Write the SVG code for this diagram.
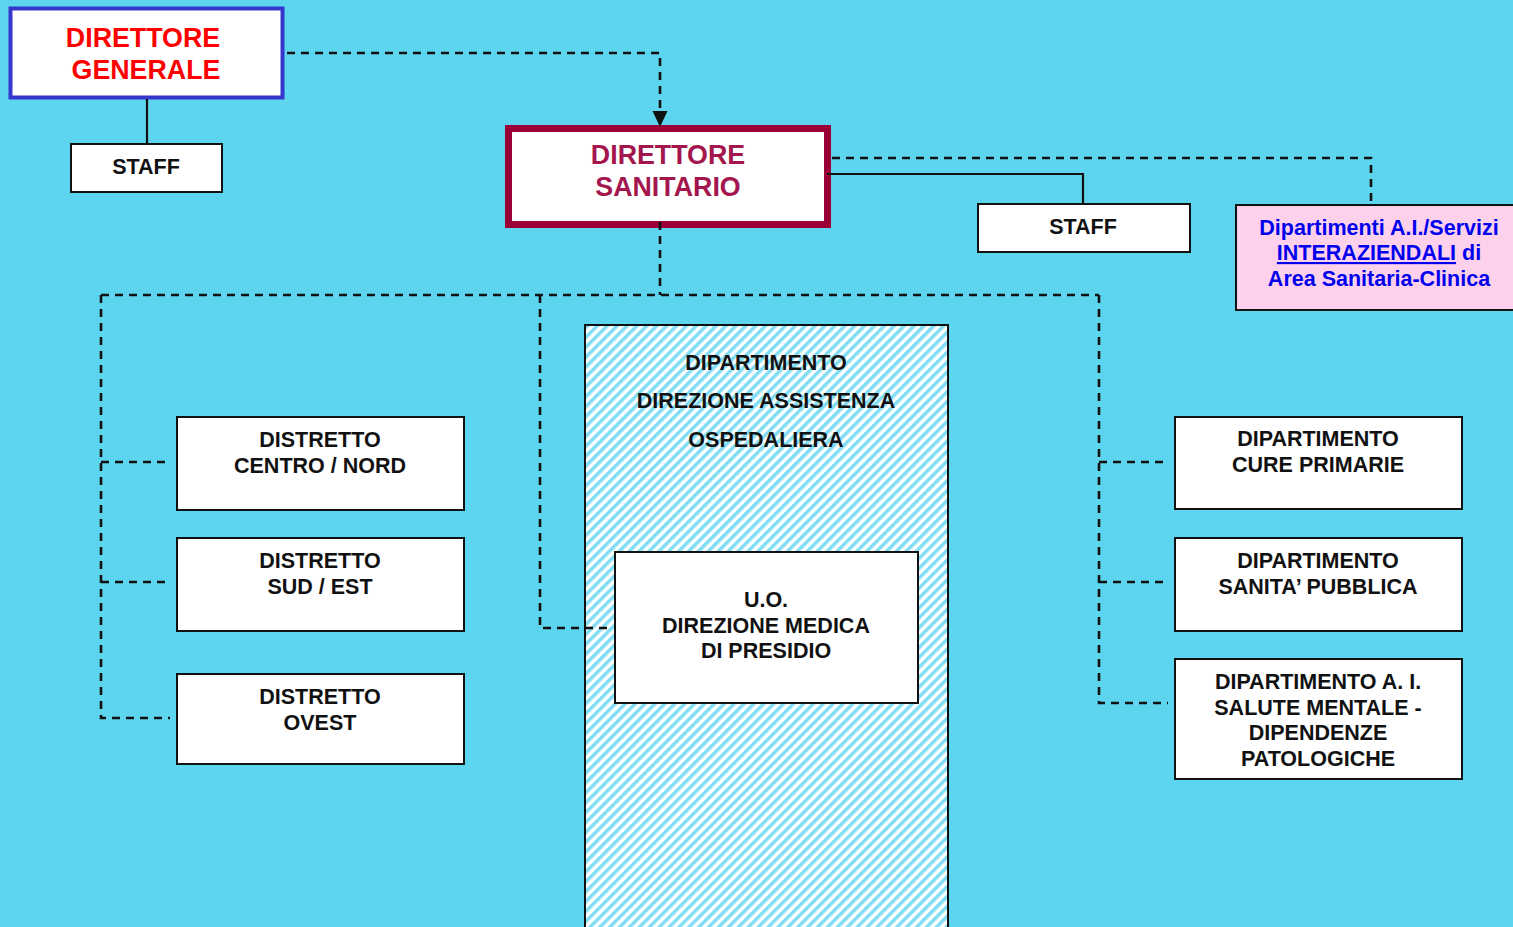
<svg xmlns="http://www.w3.org/2000/svg" width="1513" height="927" viewBox="0 0 1513 927">
<style>
  .box{fill:#fff;stroke:#111;stroke-width:2}
  .t{font-family:"Liberation Sans",Arial,sans-serif;font-weight:bold;font-size:21.5px;fill:#111;text-anchor:middle}
  .big{font-size:26.8px}
  .dash{fill:none;stroke:#111;stroke-width:2.6;stroke-dasharray:8,6}
  .solid{fill:none;stroke:#111;stroke-width:2.2}
</style>
<defs>
  <pattern id="hatch" patternUnits="userSpaceOnUse" width="7" height="7" patternTransform="rotate(45)">
    <rect width="7" height="7" fill="#ffffff"/>
    <rect width="3.5" height="7" fill="#80DDF3"/>
  </pattern>
</defs>
<rect width="1513" height="927" fill="#5DD5EE"/>

<g id="direttore-generale">
  <rect x="10.5" y="8.5" width="272" height="89" fill="#fff" stroke="#3636CC" stroke-width="4"/>
  <text class="t big" x="143" y="47" style="fill:#FF0000">DIRETTORE</text>
  <text class="t big" x="146" y="79" style="fill:#FF0000">GENERALE</text>
</g>

<g id="staff-dg">
  <rect class="box" x="71" y="144" width="151" height="48"/>
  <text class="t" x="146" y="174">STAFF</text>
</g>

<g id="direttore-sanitario">
  <rect x="508.5" y="128.5" width="319" height="96" fill="#fff" stroke="#9B0036" stroke-width="7"/>
  <text class="t big" x="668" y="164" style="fill:#A3174E">DIRETTORE</text>
  <text class="t big" x="668" y="196" style="fill:#A3174E">SANITARIO</text>
</g>

<g id="staff-ds">
  <rect class="box" x="978" y="204" width="212" height="48"/>
  <text class="t" x="1083" y="234">STAFF</text>
</g>

<g id="interaziendali">
  <rect x="1236" y="205" width="285" height="105" fill="#FDD0EC" stroke="#111" stroke-width="2"/>
  <text class="t" x="1379" y="235" style="fill:#0000EE">Dipartimenti A.I./Servizi</text>
  <text class="t" x="1379" y="260" style="fill:#0000EE"><tspan text-decoration="underline">INTERAZIENDALI</tspan> di</text>
  <text class="t" x="1379" y="286" style="fill:#0000EE">Area Sanitaria-Clinica</text>
</g>

<g id="dipartimento-dao">
  <rect x="585" y="325" width="363" height="610" fill="url(#hatch)" stroke="#111" stroke-width="2"/>
  <text class="t" x="766" y="370">DIPARTIMENTO</text>
  <text class="t" x="766" y="408">DIREZIONE ASSISTENZA</text>
  <text class="t" x="766" y="447">OSPEDALIERA</text>
</g>

<g id="uo-direzione-medica">
  <rect class="box" x="615" y="552" width="303" height="151"/>
  <text class="t" x="766" y="607">U.O.</text>
  <text class="t" x="766" y="633">DIREZIONE MEDICA</text>
  <text class="t" x="766" y="658">DI PRESIDIO</text>
</g>

<g id="distretto-centro-nord">
  <rect class="box" x="177" y="417" width="287" height="93"/>
  <text class="t" x="320" y="447">DISTRETTO</text>
  <text class="t" x="320" y="473">CENTRO / NORD</text>
</g>

<g id="distretto-sud-est">
  <rect class="box" x="177" y="538" width="287" height="93"/>
  <text class="t" x="320" y="568">DISTRETTO</text>
  <text class="t" x="320" y="594">SUD / EST</text>
</g>

<g id="distretto-ovest">
  <rect class="box" x="177" y="674" width="287" height="90"/>
  <text class="t" x="320" y="704">DISTRETTO</text>
  <text class="t" x="320" y="730">OVEST</text>
</g>

<g id="dip-cure-primarie">
  <rect class="box" x="1175" y="417" width="287" height="92"/>
  <text class="t" x="1318" y="446">DIPARTIMENTO</text>
  <text class="t" x="1318" y="472">CURE PRIMARIE</text>
</g>

<g id="dip-sanita-pubblica">
  <rect class="box" x="1175" y="538" width="287" height="93"/>
  <text class="t" x="1318" y="568">DIPARTIMENTO</text>
  <text class="t" x="1318" y="594">SANITA’ PUBBLICA</text>
</g>

<g id="dip-salute-mentale">
  <rect class="box" x="1175" y="659" width="287" height="120"/>
  <text class="t" x="1318" y="689">DIPARTIMENTO A. I.</text>
  <text class="t" x="1318" y="715">SALUTE MENTALE -</text>
  <text class="t" x="1318" y="740">DIPENDENZE</text>
  <text class="t" x="1318" y="766">PATOLOGICHE</text>
</g>

<g id="connectors">
  <path class="solid" d="M147,99 V143"/>
  <path class="dash" d="M287,53 H660 V112"/>
  <path d="M652.5,111 L667.5,111 L660,127 Z" fill="#111"/>
  <path class="dash" d="M832,158 H1371 V204"/>
  <path class="solid" d="M827,174 H1083 V204"/>
  <path class="dash" d="M660,222 V295"/>
  <path class="dash" d="M101,295 H1099"/>
  <path class="dash" d="M101,295 V718 H170"/>
  <path class="dash" d="M101,462 H170"/>
  <path class="dash" d="M101,582 H170"/>
  <path class="dash" d="M540,295 V628 H608"/>
  <path class="dash" d="M1099,295 V703 H1168"/>
  <path class="dash" d="M1099,462 H1168"/>
  <path class="dash" d="M1099,582 H1168"/>
</g>
</svg>
